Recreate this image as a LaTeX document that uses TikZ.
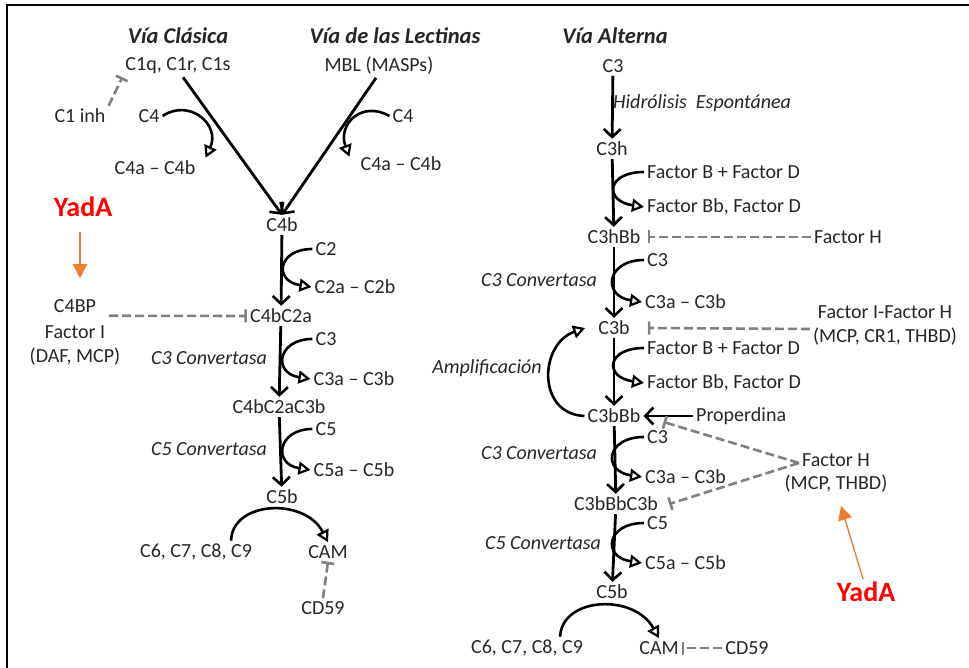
\documentclass[tikz,border=0pt]{standalone}
\usepackage{fontspec}
\setmainfont{Carlito}
\usetikzlibrary{arrows.meta}
\definecolor{yadared}{RGB}{255,0,0}
\definecolor{yadaorange}{RGB}{237,125,49}

\begin{document}
\begin{tikzpicture}[
    x=1pt, y=-1pt,
    lbl/.style={font=\fontsize{20}{24}\selectfont, text=black!85, inner sep=3pt},
    ttl/.style={lbl, font=\fontsize{22.5}{26}\selectfont\bfseries\itshape},
    conv/.style={lbl, font=\fontsize{20}{24}\selectfont\itshape},
    yada/.style={font=\fontsize{28}{32}\selectfont\bfseries, text=yadared, inner sep=3pt},
    main/.style={line width=2.8pt, -{Straight Barb[length=8pt, width=17pt, line width=2.6pt]}},
    side/.style={line width=2.6pt, -{Triangle[open, length=12pt, width=13pt, line width=2.2pt]}},
    inhib/.style={gray, line width=2.6pt, dash pattern=on 9pt off 4pt, -{Bar[width=13pt, line width=2.6pt]}},
    yadarr/.style={yadaorange, line width=1.4pt, -{Triangle[length=14pt, width=14pt]}},
]
\useasboundingbox (0,0) rectangle (969,668);
% Frame
\draw[line width=2.2pt] (969,5) -- (7,5) -- (7,668);

% Titles
\node[ttl] (tclas) at (178,36) {Vía Clásica};
\node[ttl] (tlec) at (395,36) {Vía de las Lectinas};
\node[ttl] (talt) at (615,36) {Vía Alterna};

% Classical and lectin pathways
\node[lbl] (c1q) at (178,66) {C1q, C1r, C1s};
\node[lbl] (mbl) at (379,66) {MBL (MASPs)};
\node[lbl] (c1inh) at (80,116) {C1 inh};
\node[lbl] (c4l) at (149,116) {C4};
\node[lbl] (c4abl) at (155,168) {C4a – C4b};
\node[lbl] (c4r) at (403,116) {C4};
\node[lbl] (c4abr) at (401,164) {C4a – C4b};
\node[lbl] (c4b) at (282,225) {C4b};
\node[lbl] (c2) at (326,249) {C2};
\node[lbl] (c2ab) at (355,287) {C2a – C2b};
\node[lbl] (c4bc2a) at (281,316) {C4bC2a};
\node[lbl] (c4bp) at (75,306) {C4BP};
\node[lbl] (facI) at (75,332) {Factor I};
\node[lbl] (dafmcp) at (75,357) {(DAF, MCP)};
\node[lbl] (c3l) at (326,339) {C3};
\node[lbl] (c3abl) at (354,379) {C3a – C3b};
\node[conv] (conv3l) at (209,358) {C3 Convertasa};
\node[lbl] (c4bc2ac3b) at (279,407) {C4bC2aC3b};
\node[lbl] (c5l) at (326,429) {C5};
\node[lbl] (c5abl) at (354,470) {C5a – C5b};
\node[conv] (conv5l) at (209,449) {C5 Convertasa};
\node[lbl] (c5bl) at (282,497) {C5b};
\node[lbl] (c6l) at (196,552) {C6, C7, C8, C9};
\node[lbl] (caml) at (328,552) {CAM};
\node[lbl] (cd59l) at (323,608) {CD59};

% Alternative pathway
\node[lbl] (c3) at (613,66) {C3};
\node[conv, anchor=west] (hidro) at (610,103) {Hidrólisis\ \ Espontánea};
\node[lbl] (c3h) at (612,149) {C3h};
\node[lbl, anchor=west] (fbd1) at (644,172) {Factor B + Factor D};
\node[lbl, anchor=west] (fbb1) at (644,207) {Factor Bb, Factor D};
\node[lbl] (c3hbb) at (614,237) {C3hBb};
\node[lbl, anchor=west] (fh1) at (811,237) {Factor H};
\node[lbl, anchor=west] (c3a1) at (644,260) {C3};
\node[lbl, anchor=west] (c3ab1) at (642,302) {C3a – C3b};
\node[conv] (conv3a) at (539,280) {C3 Convertasa};
\node[lbl] (c3b) at (614,328) {C3b};
\node[lbl, align=center] (fifh) at (885,325) {Factor I-Factor H\\(MCP, CR1, THBD)};
\node[lbl, anchor=west] (fbd2) at (644,348) {Factor B + Factor D};
\node[lbl, anchor=west] (fbb2) at (644,383) {Factor Bb, Factor D};
\node[conv] (ampl) at (487,368) {Amplificación};
\node[lbl] (c3bbb) at (614,416) {C3bBb};
\node[lbl, anchor=west] (prop) at (693,416) {Properdina};
\node[lbl, anchor=west] (c3a2) at (644,437) {C3};
\node[lbl, anchor=west] (c3ab2) at (642,477) {C3a – C3b};
\node[conv] (conv3b) at (539,453) {C3 Convertasa};
\node[lbl] (c3bbbc3b) at (616,504) {C3bBbC3b};
\node[lbl] (fh2) at (836,460) {Factor H};
\node[lbl] (fh2b) at (836,484) {(MCP, THBD)};
\node[lbl, anchor=west] (c5a) at (644,523) {C5};
\node[lbl, anchor=west] (c5ab) at (642,563) {C5a – C5b};
\node[conv] (conv5) at (543,543) {C5 Convertasa};
\node[lbl] (c5b) at (612,592) {C5b};
\node[lbl] (c6) at (527,648) {C6, C7, C8, C9};
\node[lbl] (cam) at (659,648) {CAM};
\node[lbl] (cd59) at (747,648) {CD59};

% YadA
\node[yada] (yadal) at (83,207) {YadA};
\node[yada] (yadar) at (866,592) {YadA};

% Main cascade
\draw[main] ([xshift=5pt]c1q.south) -- (c4b.north);
\draw[main] ([xshift=-3pt]mbl.south) -- (c4b.north);
\draw[main] (c4b) -- (c4bc2a);
\draw[main] (c4bc2a) -- (c4bc2ac3b);
\draw[main] (c4bc2ac3b) -- (c5bl);
\draw[main] (c3) -- (c3h);
\draw[main] (c3h) -- (c3hbb);
\draw[main] (c3hbb) -- (c3b);
\draw[main] (c3b) -- (c3bbb);
\draw[main] (c3bbb) -- (c3bbbc3b);
\draw[main] (c3bbbc3b) -- (c5b);
\draw[main] (prop.west) -- (c3bbb.east);

% Side reactions
\draw[side] (c4l.east) .. controls +(27,-18) and +(15,-33) .. ([xshift=7pt]c4abl.north east);
\draw[side] (c4r.west) .. controls +(-28,-16) and +(-12,-32) .. ([shift={(-8,3)}]c4abr.north west);
\draw[side] (c2.west) .. controls +(-35,0) and +(-38,-6) .. (c2ab.west);
\draw[side] (c3l.west) .. controls +(-35,0) and +(-38,-6) .. (c3abl.west);
\draw[side] (c5l.west) .. controls +(-35,0) and +(-38,-6) .. (c5abl.west);
\draw[side] (fbd1.west) .. controls +(-38,0) and +(-40,-6) .. (fbb1.west);
\draw[side] (c3a1.west) .. controls +(-38,0) and +(-40,-6) .. (c3ab1.west);
\draw[side] (fbd2.west) .. controls +(-38,0) and +(-40,-6) .. (fbb2.west);
\draw[side] (c3a2.west) .. controls +(-38,0) and +(-40,-6) .. (c3ab2.west);
\draw[side] (c5a.west) .. controls +(-38,0) and +(-40,-6) .. (c5ab.west);
\draw[side] (c3bbb.west) .. controls +(-48,-2) and +(-46,16) .. ([xshift=-10pt]c3b.west);
\draw[side] ([xshift=-24pt]c6l.north east) .. controls +(1,-40) and +(-23,-45) .. (caml.north);
\draw[side] ([xshift=-26pt]c6.north east) .. controls +(2,-40) and +(-25,-45) .. (cam.north);

% Inhibitors
\draw[inhib] (c1inh.north east) -- (c1q.south west);
\draw[inhib] ([xshift=10pt]c4bp.south east) -- (c4bc2a.west);
\draw[inhib] (cd59l.north) -- (caml.south);
\draw[inhib] (fh1.west) -- ([xshift=4pt]c3hbb.east);
\draw[inhib] ([yshift=-4pt]fifh.west) -- ([xshift=15pt]c3b.east);
\draw[inhib] ([yshift=-3pt]fh2.west) -- ([shift={(20,6)}]c3bbb.east);
\draw[inhib] ([yshift=-3pt]fh2.west) -- ([xshift=8pt]c3bbbc3b.east);
\draw[inhib] (cd59.west) -- (cam.east);

% YadA targets
\draw[yadarr] ([shift={(-3,12)}]yadal.south) -- ([shift={(5,-18)}]c4bp.north);
\draw[yadarr] ([xshift=-3pt]yadar.north) -- ([shift={(5,10)}]fh2b.south);
\end{tikzpicture}
\end{document}
